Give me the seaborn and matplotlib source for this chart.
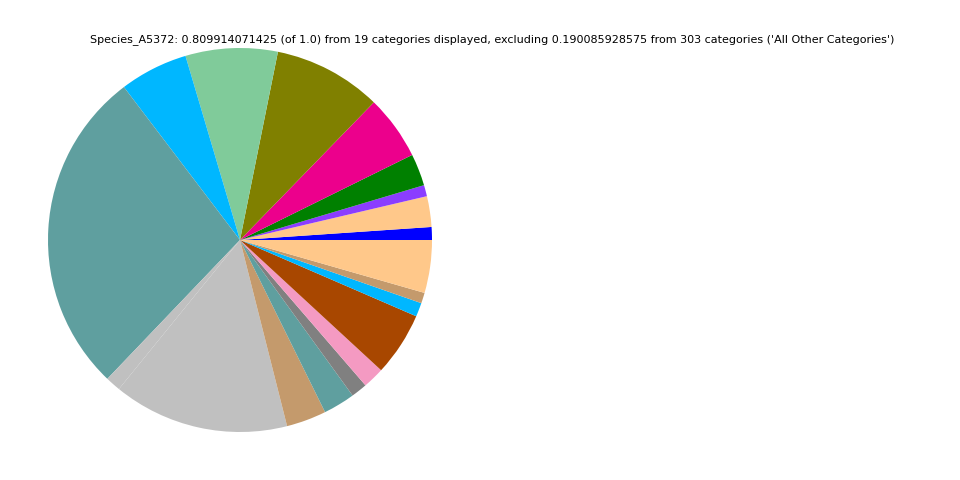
import seaborn as sns
import matplotlib.pyplot as plt
import numpy as np

sns.set_style("white")

# slice values (fraction of total), counter-clockwise from 3 o'clock
values = [0.00877, 0.02092, 0.00765, 0.02182, 0.04387, 0.07380, 0.06277,
          0.04657, 0.22295, 0.01035, 0.11991, 0.02722, 0.02160, 0.01102,
          0.01462, 0.04342, 0.00945, 0.00720, 0.03600]
colors = ["#0000FF", "#FFC88A", "#8B3DFF", "#008000", "#EC008C", "#808000",
          "#80CB9A", "#00B7FF", "#5F9F9F", "#C0C0C0", "#C0C0C0", "#C49A6C",
          "#5F9F9F", "#808080", "#F49AC2", "#A84700", "#00B7FF", "#C49A6C",
          "#FFC88A"]

title = ("Species_A5372: 0.809914071425 (of 1.0) from 19 categories displayed, "
         "excluding 0.190085928575 from 303 categories ('All Other Categories')")

fig = plt.figure(figsize=(9.6, 4.8), dpi=100)
ax = fig.add_axes([0, 0, 0.5, 1])
ax.pie(values, colors=colors, startangle=0, counterclock=True,
       wedgeprops={"linewidth": 0})
ax.set_xlim(-1.25, 1.25)
ax.set_ylim(-1.25, 1.25)
ax.set_aspect("equal")
ax.axis("off")

fig.text(492 / 960, 1 - 40 / 480, title, ha="center", va="center",
         fontsize=8, color="black")

fig.savefig("out.png", dpi=100)
